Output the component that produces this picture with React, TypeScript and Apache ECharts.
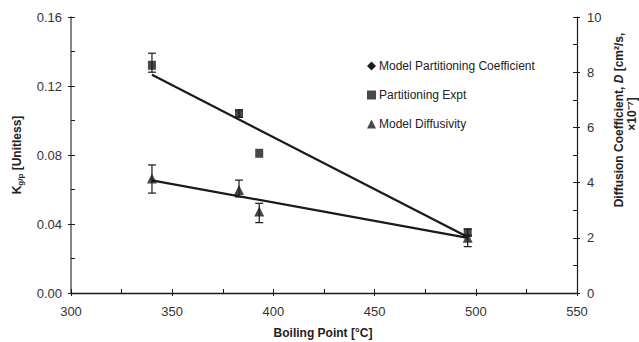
import React, { useEffect, useRef } from "react";
import * as echarts from "echarts";

// Data
const xTicks = [300, 350, 400, 450, 500, 550];
const partitionExpt: number[][] = [[340, 0.132], [383, 0.104], [393, 0.081], [496, 0.035]];
const partitionExptErr: number[][] = [[340, 0.128, 0.139], [383, 0.102, 0.106], [496, 0.033, 0.037]];
const partitionModel: number[][] = [[340, 0.1265], [496, 0.0325]];
const diffusivity: number[][] = [[340, 4.15], [383, 3.73], [393, 2.95], [496, 2.0]];
const diffusivityErr: number[][] = [[340, 3.62, 4.64], [383, 3.48, 4.09], [393, 2.55, 3.25], [496, 1.68, 2.1]];
const diffusivityTrend: number[][] = [[340, 4.08], [496, 2.0]];

const FONT = "'Liberation Sans', Arial, sans-serif";
const INK = "#1a1a1a";

function errRender(params: any, api: any) {
  const x = api.value(0);
  const lo = api.coord([x, api.value(1)]);
  const hi = api.coord([x, api.value(2)]);
  const w = 4;
  const style = { stroke: INK, lineWidth: 1.2 };
  return {
    type: "group",
    children: [
      { type: "line", shape: { x1: lo[0], y1: lo[1], x2: hi[0], y2: hi[1] }, style },
      { type: "line", shape: { x1: lo[0] - w, y1: lo[1], x2: lo[0] + w, y2: lo[1] }, style },
      { type: "line", shape: { x1: hi[0] - w, y1: hi[1], x2: hi[0] + w, y2: hi[1] }, style },
    ],
  };
}

export default function App() {
  const ref = useRef<HTMLDivElement>(null);
  useEffect(() => {
    const chart = echarts.init(ref.current!, undefined, { renderer: "svg" });
    const labelStyle = { fontFamily: FONT, fontSize: 13, color: "#333" };
    const option: any = {
      animation: false,
      backgroundColor: "#fff",
      grid: { left: 71, right: 62, top: 17, bottom: 49, containLabel: false },
      legend: {
        orient: "vertical",
        left: 362,
        top: 55,
        itemWidth: 9,
        itemHeight: 9,
        itemGap: 17,
        textStyle: { fontFamily: FONT, fontSize: 12, color: "#222", padding: [0, 0, 0, -2] },
        data: [
          { name: "Model Partitioning Coefficient", icon: "diamond" },
          { name: "Partitioning Expt", icon: "rect" },
          { name: "Model Diffusivity", icon: "triangle" },
        ],
      },
      xAxis: [
        {
          type: "value", min: xTicks[0], max: xTicks[xTicks.length - 1], interval: 50, position: "bottom",
          axisLine: { lineStyle: { color: INK, width: 1.4 } },
          axisTick: { inside: true, length: 4, lineStyle: { color: INK } },
          minorTick: { show: true, splitNumber: 2, length: 4, lineStyle: { color: INK } },
          axisLabel: { ...labelStyle, margin: 12 },
          splitLine: { show: false },
        },
        {
          type: "value", min: xTicks[0], max: xTicks[xTicks.length - 1], interval: 50, position: "bottom",
          axisLine: { show: false },
          axisTick: { inside: false, length: 3, lineStyle: { color: INK } },
          axisLabel: { show: false },
          splitLine: { show: false },
        },
      ],
      yAxis: [
        {
          type: "value", min: 0, max: 0.16, interval: 0.04, position: "left",
          axisLine: { show: true, lineStyle: { color: "#666", width: 1.6 } },
          axisTick: { show: true, inside: true, length: 4, lineStyle: { color: INK } },
          minorTick: { show: true, splitNumber: 2, length: 4, lineStyle: { color: INK } },
          axisLabel: { ...labelStyle, margin: 9, formatter: (v: number) => v.toFixed(2) },
          splitLine: { show: false },
        },
        {
          type: "value", min: 0, max: 10, interval: 2, position: "right",
          axisLine: { show: true, lineStyle: { color: INK, width: 1.2 } },
          axisTick: { show: true, inside: true, length: 4, lineStyle: { color: INK } },
          minorTick: { show: true, splitNumber: 2, length: 4, lineStyle: { color: INK } },
          axisLabel: { ...labelStyle, margin: 10 },
          splitLine: { show: false },
        },
        {
          type: "value", min: 0, max: 0.16, interval: 0.04, position: "left",
          axisLine: { show: false },
          axisTick: { show: true, inside: false, length: 3, lineStyle: { color: INK } },
          axisLabel: { show: false },
          splitLine: { show: false },
        },
        {
          type: "value", min: 0, max: 10, interval: 2, position: "right",
          axisLine: { show: false },
          axisTick: { show: true, inside: false, length: 3, lineStyle: { color: INK } },
          axisLabel: { show: false },
          splitLine: { show: false },
        },
      ],
      series: [
        {
          name: "Model Partitioning Coefficient", type: "line", data: partitionModel,
          xAxisIndex: 0, yAxisIndex: 0, symbol: "none",
          lineStyle: { color: INK, width: 2.2 }, itemStyle: { color: INK }, z: 3,
        },
        {
          name: "DiffTrend", type: "line", data: diffusivityTrend,
          xAxisIndex: 0, yAxisIndex: 1, symbol: "none",
          lineStyle: { color: INK, width: 2.2 }, itemStyle: { color: INK }, z: 3,
        },
        {
          name: "PartErr", type: "custom", xAxisIndex: 0, yAxisIndex: 0,
          data: partitionExptErr, renderItem: errRender, z: 2,
        },
        {
          name: "DiffErr", type: "custom", xAxisIndex: 0, yAxisIndex: 1,
          data: diffusivityErr, renderItem: errRender, z: 2,
        },
        {
          name: "Partitioning Expt", type: "scatter", data: partitionExpt,
          xAxisIndex: 0, yAxisIndex: 0, symbol: "rect", symbolSize: [8, 9],
          itemStyle: { color: INK }, z: 4,
        },
        {
          name: "Model Diffusivity", type: "scatter", data: diffusivity,
          xAxisIndex: 0, yAxisIndex: 1, symbol: "triangle", symbolSize: [10, 10],
          itemStyle: { color: INK }, z: 4,
        },
      ],
      graphic: [
        {
          type: "text", x: 17, y: 155, rotation: Math.PI / 2,
          style: {
            text: "{k|K}{s|g/p}{k| [Unitless]}",
            align: "center", verticalAlign: "middle",
            rich: {
              k: { fontFamily: FONT, fontSize: 12, fontWeight: "bold", fill: "#222" },
              s: { fontFamily: FONT, fontSize: 8, fontWeight: "bold", fill: "#222", verticalAlign: "bottom", padding: [6, 0, 0, 0] },
            },
          },
        },
        {
          type: "text", x: 619, y: 120, rotation: Math.PI / 2,
          style: {
            text: "{a|Diffusion Coefficient, }{i|D}{a| [cm²/s,}",
            align: "center", verticalAlign: "middle",
            rich: {
              a: { fontFamily: FONT, fontSize: 12, fontWeight: "bold", fill: "#222" },
              i: { fontFamily: FONT, fontSize: 12, fontWeight: "bold", fontStyle: "italic", fill: "#222" },
            },
          },
        },
        {
          type: "text", x: 632, y: 114, rotation: Math.PI / 2,
          style: {
            text: "×10⁻⁷]",
            align: "center", verticalAlign: "middle",
            fontFamily: FONT, fontSize: 12, fontWeight: "bold", fill: "#222",
          },
        },
        {
          type: "text", x: 323, y: 333,
          style: {
            text: "Boiling Point [°C]",
            align: "center", verticalAlign: "middle",
            fontFamily: FONT, fontSize: 12, fontWeight: "bold", fill: "#222",
          },
        },
      ],
    };
    chart.setOption(option);
    return () => chart.dispose();
  }, []);
  return <div ref={ref} style={{ position: "fixed", left: 0, top: 0, width: 639, height: 342 }} />;
}
